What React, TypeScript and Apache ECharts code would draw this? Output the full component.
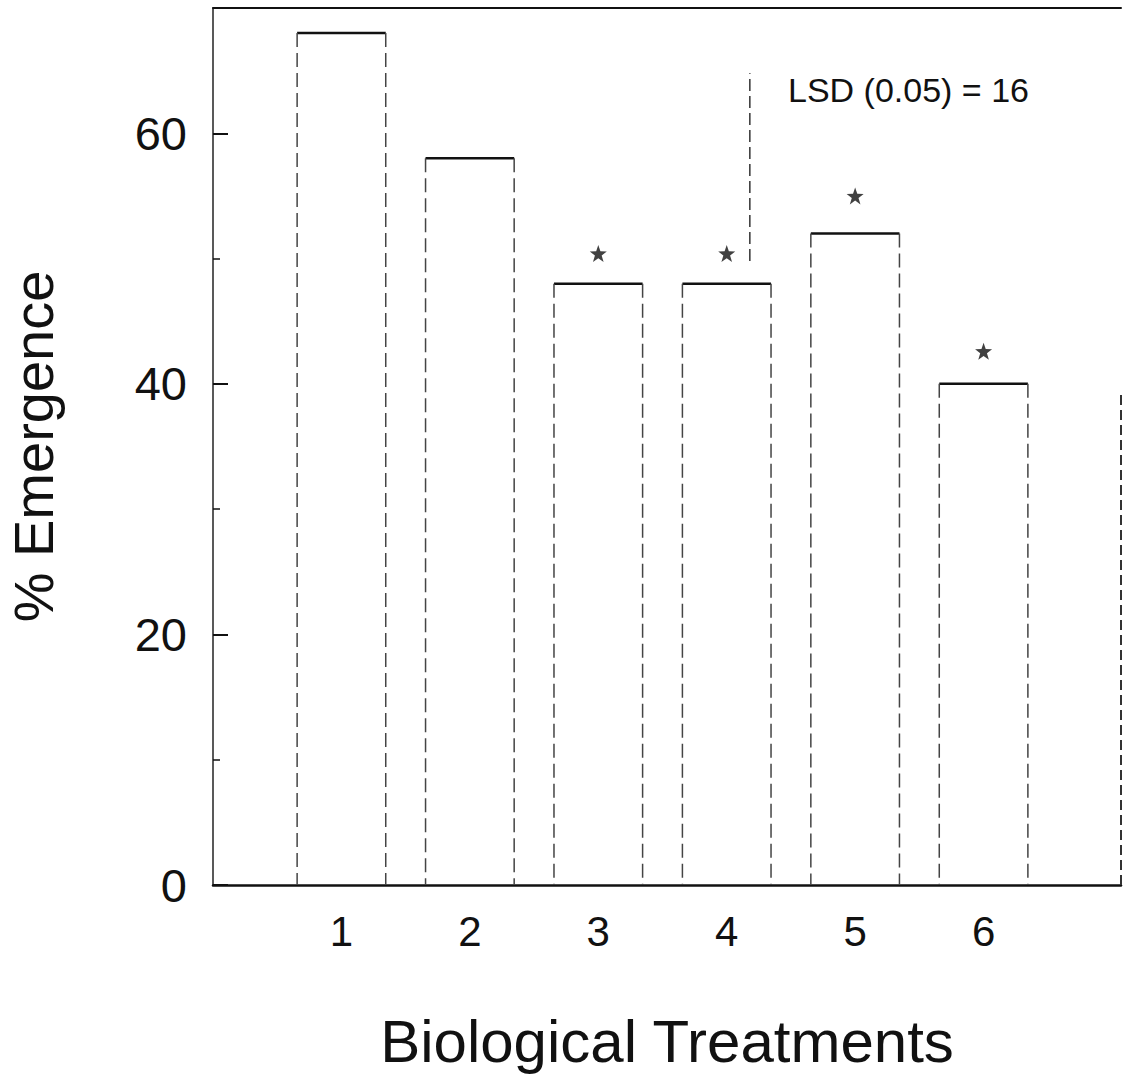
import React, { useEffect, useRef } from "react";
import * as echarts from "echarts";

const categories = ["1", "2", "3", "4", "5", "6"];
const emergence = [68, 58, 48, 48, 52, 40];
const asterisks: (number | null)[] = [null, null, 50.4, 50.4, 55, 42.6];
const lsdLabel = "LSD (0.05) = 16";
const lsdX = 4.18;
const lsdBottom = 49.8;
const lsdTop = 64.8;
const yMax = 70;
const xMax = 7.07;
const rightEdgeTop = 39.5;
const yTitle = "% Emergence";
const xTitle = "Biological Treatments";

const FONT = "'Liberation Sans', Arial, Helvetica, sans-serif";
const BAR_W = 0.69;
const STAR =
  "path://M50,2 L62,36 L98,37 L69,59 L80,94 L50,73 L20,94 L31,59 L2,37 L38,36 Z";

export default function App() {
  const ref = useRef<HTMLDivElement>(null);
  useEffect(() => {
    if (!ref.current) return;
    const chart = echarts.init(ref.current, null, { renderer: "svg" });
    const option: any = {
      animation: false,
      backgroundColor: "#ffffff",
      grid: {
        left: 213,
        right: 2,
        top: 8,
        height: 877,
        containLabel: false,
        outerBoundsMode: "none",
      },
      xAxis: [
        {
          type: "value",
          min: 0,
          max: xMax,
          interval: 1,
          position: "bottom",
          axisLine: { show: true, onZero: false, lineStyle: { color: "#111", width: 2.5 } },
          axisTick: { show: false },
          splitLine: { show: false },
          axisLabel: {
            margin: 25,
            fontFamily: FONT,
            fontSize: 42,
            color: "#111",
            showMaxLabel: false,
            showMinLabel: false,
            formatter: (v: number) => {
              const i = Math.round(v) - 1;
              return Math.abs(v - Math.round(v)) < 1e-6 && i >= 0 && i < categories.length
                ? categories[i]
                : "";
            },
          },
          name: xTitle,
          nameLocation: "middle",
          nameGap: 126,
          nameTextStyle: { fontFamily: FONT, fontSize: 60, color: "#111" },
        },
        {
          type: "value",
          min: 0,
          max: xMax,
          position: "top",
          axisLine: { show: true, onZero: false, lineStyle: { color: "#111", width: 2 } },
          axisTick: { show: false },
          axisLabel: { show: false },
          splitLine: { show: false },
        },
      ],
      yAxis: {
        type: "value",
        min: 0,
        max: yMax,
        interval: 20,
        axisLine: { show: true, onZero: false, lineStyle: { color: "#222", width: 1.5 } },
        axisTick: { show: true, inside: true, length: 15, lineStyle: { color: "#111", width: 2 } },
        minorTick: { show: true, splitNumber: 2, length: 7, lineStyle: { color: "#111", width: 1.5 } },
        splitLine: { show: false },
        axisLabel: {
          margin: 26,
          fontFamily: FONT,
          fontSize: 47,
          color: "#111",
          showMaxLabel: false,
        },
        name: yTitle,
        nameLocation: "middle",
        nameRotate: 90,
        nameGap: 152,
        nameTextStyle: { fontFamily: FONT, fontSize: 56, color: "#111" },
      },
      series: [
        {
          type: "custom",
          data: emergence.map((v, i) => [i + 1, v]),
          renderItem: (params: any, api: any) => {
            const x = api.value(0);
            const y = api.value(1);
            const w = api.size([BAR_W, 0])[0];
            const p0 = api.coord([x, 0]);
            const p1 = api.coord([x, y]);
            const l = p0[0] - w / 2;
            const r = p0[0] + w / 2;
            return {
              type: "group",
              children: [
                {
                  type: "line",
                  shape: { x1: l, y1: p1[1], x2: r, y2: p1[1] },
                  style: { stroke: "#111", lineWidth: 2.5 },
                },
                {
                  type: "line",
                  shape: { x1: l, y1: p1[1], x2: l, y2: p0[1] },
                  style: { stroke: "#444", lineWidth: 1.5, lineDash: [14, 6] },
                },
                {
                  type: "line",
                  shape: { x1: r, y1: p1[1], x2: r, y2: p0[1] },
                  style: { stroke: "#444", lineWidth: 1.5, lineDash: [14, 6] },
                },
              ],
            };
          },
        },
        {
          type: "scatter",
          symbol: STAR,
          symbolSize: 17,
          itemStyle: { color: "#111" },
          data: asterisks
            .map((v, i) => (v == null ? null : [i + 1, v]))
            .filter((d) => d != null),
        },
        {
          type: "line",
          showSymbol: false,
          symbol: "none",
          lineStyle: { color: "#333", width: 1.5, type: [12, 5] },
          data: [
            [lsdX, lsdBottom],
            [lsdX, lsdTop],
          ],
        },
        {
          type: "line",
          showSymbol: false,
          symbol: "none",
          clip: false,
          lineStyle: { color: "#333", width: 2, type: [10, 5] },
          data: [
            [xMax, 0],
            [xMax, rightEdgeTop],
          ],
        },
      ],
      graphic: [
        {
          type: "text",
          x: 788,
          y: 90,
          style: {
            text: lsdLabel,
            font: `34px ${FONT}`,
            fill: "#111",
            textAlign: "left",
            textVerticalAlign: "middle",
          },
        },
      ],
    };
    chart.setOption(option);
    return () => chart.dispose();
  }, []);
  return (
    <div
      ref={ref}
      style={{ position: "fixed", left: 0, top: 0, width: 1123, height: 1076, background: "#fff" }}
    />
  );
}
